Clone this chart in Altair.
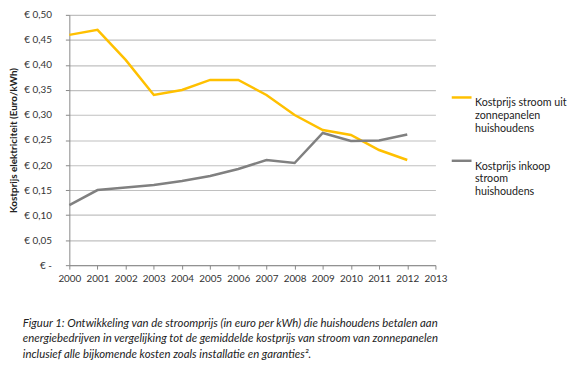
import altair as alt
import pandas as pd

years = list(range(2000, 2013))
solar = [0.46, 0.47, 0.41, 0.34, 0.35, 0.37, 0.37, 0.34, 0.30, 0.27, 0.26, 0.23, 0.21]
grid = [0.12, 0.15, 0.155, 0.16, 0.168, 0.178, 0.192, 0.21, 0.204, 0.264, 0.248, 0.249, 0.261]
series_names = ["Kostprijs stroom uit|zonnepanelen|huishoudens",
                "Kostprijs inkoop|stroom|huishoudens"]
colors = ["#FFC000", "#808080"]
caption = [
    "Figuur 1:  Ontwikkeling van de stroomprijs (in euro per kWh) die huishoudens betalen aan",
    "energiebedrijven in vergelijking tot de gemiddelde kostprijs van stroom van zonnepanelen",
    "inclusief alle bijkomende kosten zoals installatie en garanties².",
]

df = pd.DataFrame({
    "jaar": years * 2,
    "prijs": solar + grid,
    "serie": [series_names[0]] * len(years) + [series_names[1]] * len(years),
})

FONT = "Lato"

chart = alt.Chart(df).mark_line(strokeWidth=2.5).encode(
    x=alt.X("jaar:Q", scale=alt.Scale(domain=[2000, 2013], nice=False, zero=False),
            axis=alt.Axis(values=list(range(2000, 2014)), format="d", title=None,
                          grid=False, tickSize=4, tickColor="#888888", domainColor="#888888",
                          labelFontSize=10, labelColor="#333333", labelPadding=5,
                          labelFont=FONT, labelOverlap=False, labelFlush=False)),
    y=alt.Y("prijs:Q", scale=alt.Scale(domain=[0, 0.5], nice=False),
            axis=alt.Axis(values=[round(i * 0.05, 2) for i in range(11)],
                          labelExpr="datum.value == 0 ? '€ -' : '€ ' + replace(format(datum.value, '.2f'), '.', ',')",
                          title="Kostprijs elektriciteit (Euro/kWh)", titleFontSize=10,
                          titleFont=FONT, titleFontWeight="bold", titleColor="#222222",
                          titlePadding=5, gridColor="#c0c0c0", gridWidth=1.2,
                          tickSize=4, tickColor="#888888", domainColor="#888888",
                          labelFontSize=10, labelColor="#333333", labelPadding=14,
                          labelFont=FONT, labelOverlap=False)),
    color=alt.Color("serie:N", scale=alt.Scale(domain=series_names, range=colors),
                    legend=alt.Legend(title=None, orient="none", legendX=385, legendY=72,
                                      symbolType="stroke", symbolStrokeWidth=2.5,
                                      symbolSize=400, labelFont=FONT, labelFontSize=10.8,
                                      labelColor="#222222", labelLimit=200,
                                      labelExpr="split(datum.label, '|')",
                                      labelBaseline="top", rowPadding=16, labelOffset=2)),
).properties(
    width=370, height=253,
    title=alt.TitleParams(text=caption, orient="bottom", anchor="start", frame="bounds",
                          fontStyle="italic",
                          fontWeight="normal", fontSize=11.5, font=FONT, color="#222222",
                          lineHeight=16, dx=14, offset=34),
    padding={"left": 0, "top": 0, "right": 0, "bottom": 5},
).configure_view(stroke=None)

chart.save("out.html", embed_options={"renderer": "svg", "actions": False})
